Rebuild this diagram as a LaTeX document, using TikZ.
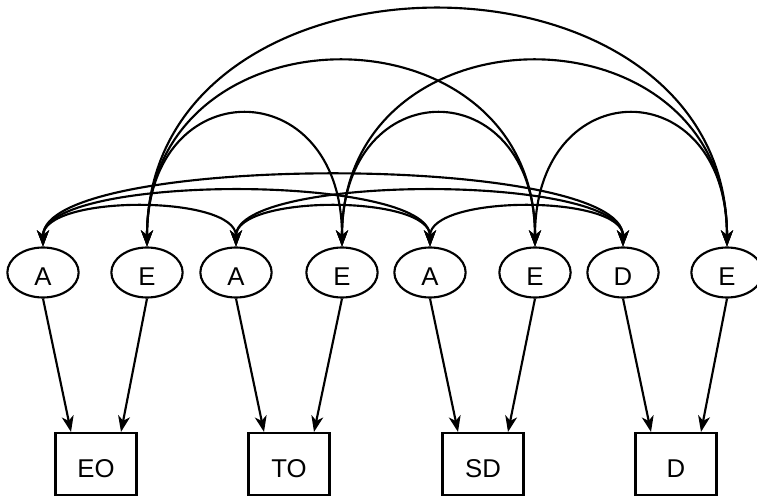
\documentclass[tikz,border=0pt]{standalone}
\usepackage{fontspec}
\setmainfont{Liberation Sans}
\usetikzlibrary{arrows.meta,shapes.geometric,calc}
\begin{document}
\begin{tikzpicture}[x=0.75pt,y=-0.75pt,
  line width=1.6pt,
  every node/.style={font=\fontsize{19.3pt}{23pt}\selectfont},
  latent/.style={draw,ellipse,minimum width=53.5pt,minimum height=37.5pt,
    inner sep=0pt,text height=19pt,text depth=0pt},
  measure/.style={draw,rectangle,minimum width=60.75pt,minimum height=46.5pt,
    inner sep=0pt,text height=19.8pt,text depth=0pt},
  tip/.tip={Stealth[length=12pt,width=9pt,inset=3.5pt]},
  load/.style={-tip},
  cov/.style={tip-tip}]
\clip (0,0) rectangle (757,496);

% latent factors
\node[latent] (a1) at (43,272.5)  {A};
\node[latent] (e1) at (147,272.5) {E};
\node[latent] (a2) at (236,272.5) {A};
\node[latent] (e2) at (342,272.5) {E};
\node[latent] (a3) at (430,272.5) {A};
\node[latent] (e3) at (535,272.5) {E};
\node[latent] (d)  at (623,272.5) {D};
\node[latent] (e4) at (727,272.5) {E};

% observed measures
\node[measure] (bEO) at (96,464)  {EO};
\node[measure] (bTO) at (289,464) {TO};
\node[measure] (bSD) at (483,464) {SD};
\node[measure] (bD)  at (676,464) {D};

% loadings
\draw[load] (a1.south) -- ($(bEO.north)+(-25,0)$);
\draw[load] (e1.south) -- ($(bEO.north)+(25,0)$);
\draw[load] (a2.south) -- ($(bTO.north)+(-25,0)$);
\draw[load] (e2.south) -- ($(bTO.north)+(25,0)$);
\draw[load] (a3.south) -- ($(bSD.north)+(-25,0)$);
\draw[load] (e3.south) -- ($(bSD.north)+(25,0)$);
\draw[load] (d.south)  -- ($(bD.north)+(-25,0)$);
\draw[load] (e4.south) -- ($(bD.north)+(25,0)$);

% covariances among E factors
\draw[cov] (e1.north) .. controls +(0,-176) and +(0,-176) .. (e2.north);
\draw[cov] (e2.north) .. controls +(0,-176) and +(0,-176) .. (e3.north);
\draw[cov] (e3.north) .. controls +(0,-176) and +(0,-176) .. (e4.north);
\draw[cov] (e1.north) .. controls +(0,-246) and +(0,-246) .. (e3.north);
\draw[cov] (e2.north) .. controls +(0,-246) and +(0,-246) .. (e4.north);
\draw[cov] (e1.north) .. controls +(0,-315) and +(0,-315) .. (e4.north);

% covariances among A and D factors
\draw[cov] (a1.north) .. controls +(0,-52) and +(0,-52) .. (a2.north);
\draw[cov] (a2.north) .. controls +(0,-52) and +(0,-52) .. (a3.north);
\draw[cov] (a3.north) .. controls +(0,-52) and +(0,-52) .. (d.north);
\draw[cov] (a1.north) .. controls +(0,-73) and +(0,-73) .. (a3.north);
\draw[cov] (a2.north) .. controls +(0,-73) and +(0,-73) .. (d.north);
\draw[cov] (a1.north) .. controls +(0,-94) and +(0,-94) .. (d.north);
\end{tikzpicture}
\end{document}
